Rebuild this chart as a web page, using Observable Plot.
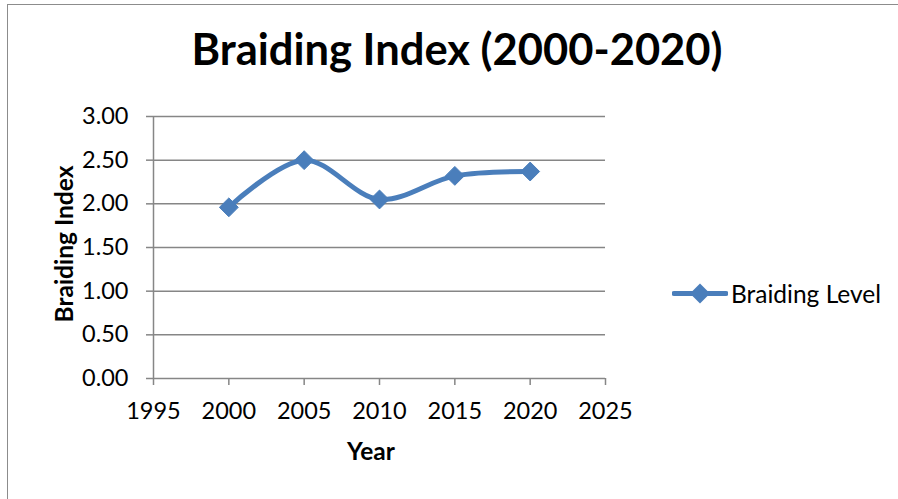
<!DOCTYPE html>
<html><head><meta charset="utf-8">
<script src="https://cdn.jsdelivr.net/npm/d3@7"></script>
<script src="https://cdn.jsdelivr.net/npm/@observablehq/plot@0.6"></script>
<style>
body{margin:0;background:#fff;}
#wrap{position:relative;width:898px;height:499px;overflow:hidden;font-family:Lato,sans-serif;color:#000;}
#border{position:absolute;left:7px;top:4px;width:1000px;height:600px;border-left:1.5px solid #8c8c8c;border-top:1.5px solid #8c8c8c;}
#chart{position:absolute;left:0;top:0;}
#title{position:absolute;left:0;width:914px;top:22px;text-align:center;font-weight:700;font-size:43.5px;line-height:1.2;white-space:nowrap;}
#ylab{position:absolute;left:63px;top:244px;transform:translate(-50%,-50%) rotate(-90deg);font-weight:700;font-size:24.5px;white-space:nowrap;}
#xlab{position:absolute;left:371px;top:436px;transform:translateX(-50%);font-weight:700;font-size:24.5px;line-height:1.2;white-space:nowrap;}
#legend{position:absolute;left:672px;top:293px;transform:translateY(-50%);display:flex;align-items:center;font-size:24.5px;white-space:nowrap;}
#legend svg{margin-right:3px;}
</style>
</head><body>
<div id="wrap">
  <div id="border"></div>
  <div id="chart"></div>
  <div id="title">Braiding Index (2000-2020)</div>
  <div id="ylab">Braiding Index</div>
  <div id="xlab">Year</div>
  <div id="legend"><svg width="56" height="22"><line x1="2" x2="54" y1="11" y2="11" stroke="#4A7EBB" stroke-width="5" stroke-linecap="round"/><path d="M28,1 L38,11 L28,21 L18,11 Z" fill="#4A7EBB"/></svg><span id="legtext"></span></div>
</div>
<script>
const seriesName = "Braiding Level";
const years = [2000, 2005, 2010, 2015, 2020];
const braiding = [1.96, 2.50, 2.05, 2.32, 2.37];
const xTicks = [1995, 2000, 2005, 2010, 2015, 2020, 2025];
const yTicks = [0, 0.5, 1, 1.5, 2, 2.5, 3];

document.getElementById("legtext").textContent = seriesName;
const data = years.map((y, i) => ({year: y, value: braiding[i]}));
const blue = "#4A7EBB";
const grid = "#868686";

const chart = Plot.plot({
  width: 898, height: 499,
  marginLeft: 153, marginRight: 293, marginTop: 116, marginBottom: 121,
  style: {fontFamily: "Lato, sans-serif", fontSize: "23.5px", color: "#000", background: "transparent", overflow: "visible"},
  x: {domain: [1995, 2025], label: null},
  y: {domain: [0, 3], label: null},
  marks: [
    Plot.ruleY(yTicks, {stroke: grid, strokeWidth: 1.5}),
    Plot.ruleX([1995], {stroke: grid, strokeWidth: 1.5}),
    Plot.axisY({ticks: yTicks, tickSize: 7, tickPadding: 18, stroke: grid, strokeWidth: 1.5, fill: "#000", tickFormat: d => d.toFixed(2), label: null, fontSize: 23.5}),
    Plot.axisX({ticks: xTicks, tickSize: 7, tickPadding: 17, stroke: grid, strokeWidth: 1.5, fill: "#000", tickFormat: d => String(d), label: null, fontSize: 23.5}),
    Plot.line(data, {x: "year", y: "value", curve: "catmull-rom", stroke: blue, strokeWidth: 5, strokeLinecap: "round"}),
    Plot.dot(data, {x: "year", y: "value", symbol: "diamond2", r: 8.5, fill: blue, stroke: blue, strokeWidth: 1})
  ]
});
document.getElementById("chart").appendChild(chart);
</script>
</body></html>
